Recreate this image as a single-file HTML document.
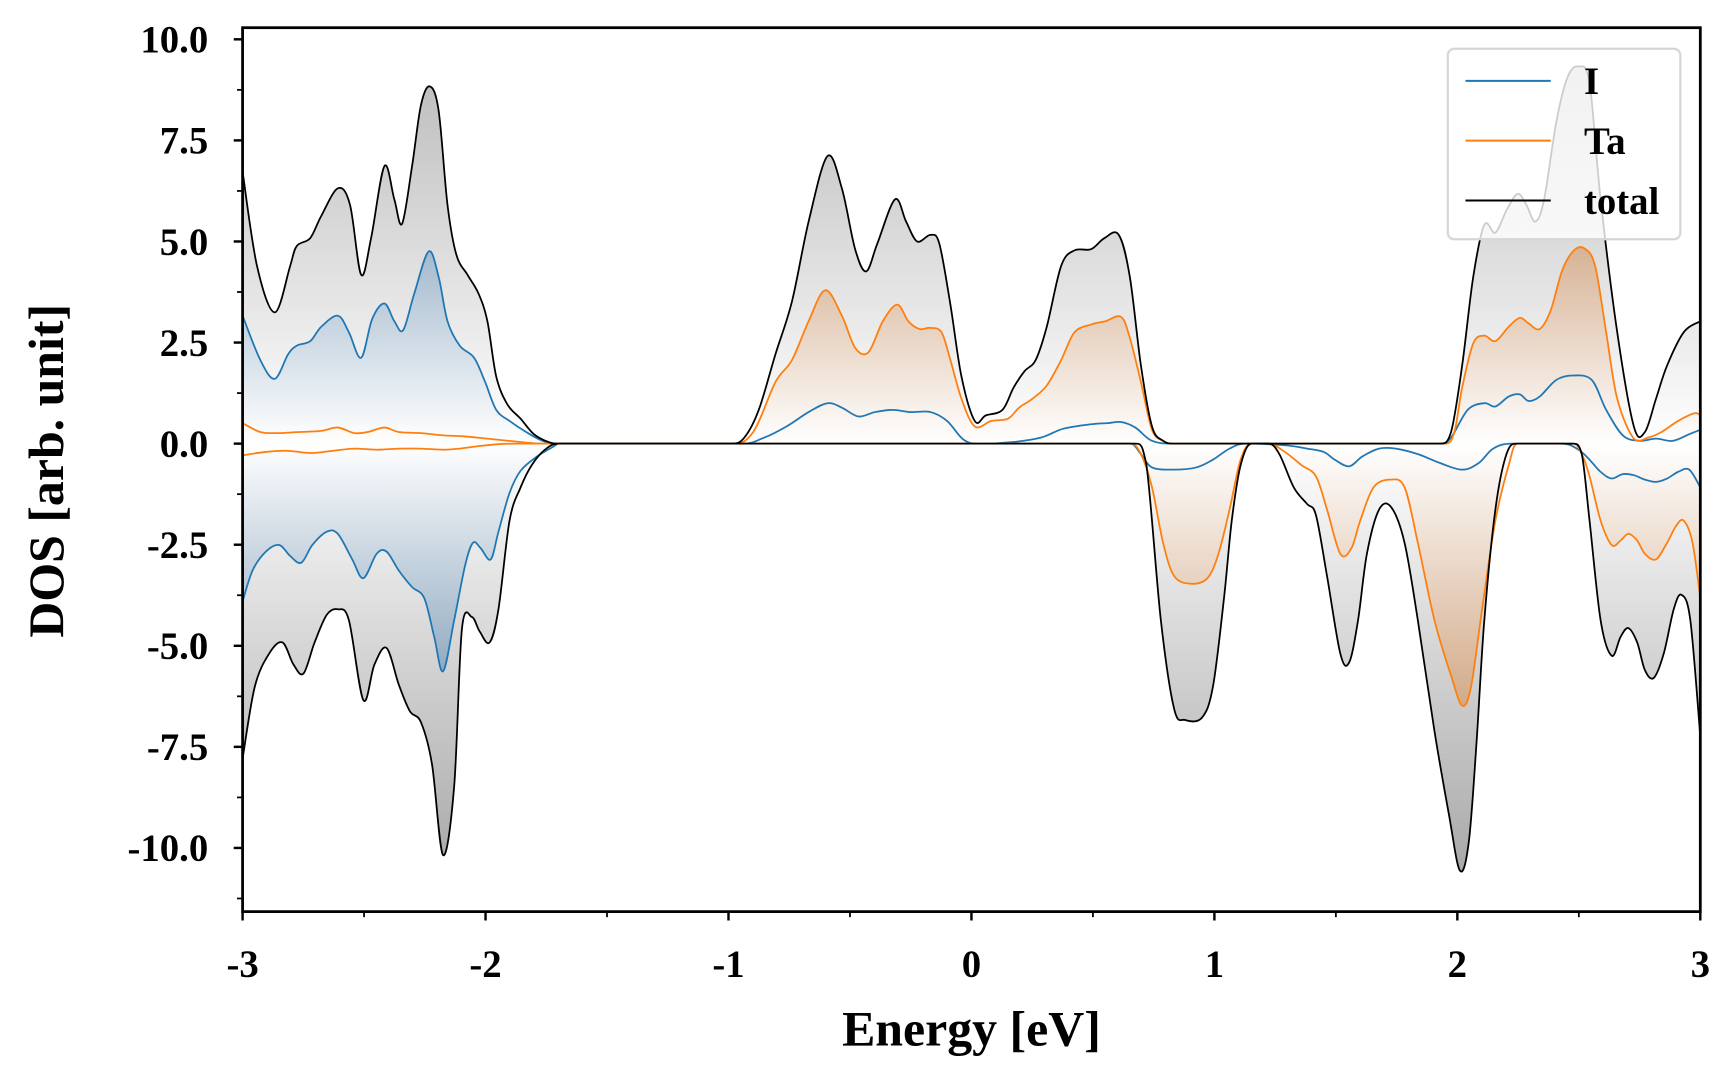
<!DOCTYPE html>
<html><head><meta charset="utf-8"><style>
html,body{margin:0;padding:0;background:#fff;}
svg{display:block;}
text{font-family:"Liberation Serif",serif;font-weight:bold;fill:#000;}
</style></head><body>
<svg id="s" width="1728" height="1080" viewBox="0 0 1560 975" xmlns="http://www.w3.org/2000/svg">
<defs>
<linearGradient id="gk" gradientUnits="userSpaceOnUse" x1="0" y1="40" x2="0" y2="790">
<stop offset="0" stop-color="#b8b8b8"/><stop offset="0.48" stop-color="#ffffff"/><stop offset="1" stop-color="#a8a8a8"/></linearGradient>
<linearGradient id="gb" gradientUnits="userSpaceOnUse" x1="0" y1="220" x2="0" y2="610">
<stop offset="0" stop-color="#9fb7cb"/><stop offset="0.46" stop-color="#ffffff"/><stop offset="1" stop-color="#8fa9c0"/></linearGradient>
<linearGradient id="go" gradientUnits="userSpaceOnUse" x1="0" y1="220" x2="0" y2="640">
<stop offset="0" stop-color="#d6b193"/><stop offset="0.43" stop-color="#ffffff"/><stop offset="1" stop-color="#d2a987"/></linearGradient>
<clipPath id="cp"><rect x="219" y="25" width="1316" height="798"/></clipPath>
</defs>
<g id="plot" clip-path="url(#cp)"></g>
<rect x="219" y="25" width="1316" height="798" fill="none" stroke="#000" stroke-width="2.5"/>
<g id="ticks" stroke="#000"></g>
<g id="labels" font-size="35"></g>
<text x="877" y="944" font-size="45" text-anchor="middle">Energy [eV]</text>
<text transform="translate(57,425) rotate(-90)" font-size="45" text-anchor="middle">DOS [arb. unit]</text>
<g id="legend">
<rect x="1307" y="44" width="210" height="172" rx="6" fill="#fff" fill-opacity="0.8" stroke="#d6d6d6" stroke-width="2"/>
<line x1="1323" y1="73" x2="1400" y2="73" stroke="#1f77b4" stroke-width="1.8"/>
<line x1="1323" y1="127" x2="1400" y2="127" stroke="#ff7f0e" stroke-width="1.8"/>
<line x1="1323" y1="181" x2="1400" y2="181" stroke="#000" stroke-width="1.8"/>
<text x="1430" y="85" font-size="35">I</text>
<text x="1430" y="139" font-size="35">Ta</text>
<text x="1430" y="193" font-size="35">total</text>
</g>
</svg>
<script>
var Z=400.5;
var TU=[[219,155],[232,240],[248,282],[262,240],[268,222],[280,215],[290,195],[305,170],[316,185],[326,248],[335,215],[347,150],[356,180],[363,202],[372,150],[380,95],[388,78],[396,100],[404,185],[412,230],[422,248],[432,265],[440,290],[448,340],[458,365],[470,378],[482,392],[495,399],[505,400.5],[660,400.5],[672,395],[685,370],[700,320],[715,272],[730,200],[747,141],[760,170],[772,225],[782,245],[792,220],[808,180],[818,200],[828,218],[840,212],[848,220],[858,275],[868,340],[880,380],[890,375],[905,370],[915,350],[925,335],[935,325],[945,295],[958,240],[970,226],[985,225],[997,215],[1010,212],[1020,250],[1030,330],[1040,385],[1050,398],[1060,400.5],[1300,400.5],[1310,390],[1320,330],[1330,250],[1340,203],[1350,210],[1360,190],[1370,175],[1378,185],[1386,200],[1394,180],[1405,110],[1415,70],[1425,60],[1435,75],[1445,180],[1460,300],[1475,385],[1485,390],[1495,360],[1505,330],[1520,300],[1535,290]];
var TD=[[219,685],[230,620],[243,590],[255,580],[265,600],[274,608],[284,580],[295,555],[305,550],[315,560],[328,632],[338,600],[349,585],[360,618],[370,642],[380,652],[390,690],[400,772],[410,710],[417,568],[426,557],[433,570],[442,580],[450,550],[460,470],[470,440],[480,420],[492,406],[505,400.5],[1025,400.5],[1035,420],[1048,560],[1060,640],[1070,650],[1085,648],[1095,620],[1105,540],[1112,470],[1120,420],[1130,400.5],[1145,400.5],[1155,410],[1168,440],[1180,455],[1188,465],[1198,520],[1210,590],[1218,598],[1226,560],[1234,500],[1245,460],[1256,458],[1268,490],[1280,560],[1295,660],[1308,735],[1318,786],[1326,760],[1333,670],[1340,560],[1350,460],[1360,410],[1370,400.5],[1420,400.5],[1428,410],[1435,470],[1445,560],[1455,592],[1463,575],[1470,567],[1478,580],[1485,605],[1493,612],[1502,590],[1511,550],[1518,537],[1526,560],[1535,665]];
var IU=[[219,285],[235,325],[248,342],[260,320],[268,312],[280,308],[290,295],[305,285],[315,300],[326,323],[336,288],[347,274],[356,290],[364,298],[374,265],[387,227],[396,250],[404,290],[415,312],[428,323],[438,345],[448,370],[460,380],[475,390],[490,398],[505,400.5],[670,400.5],[690,395],[710,385],[730,372],[747,364],[760,368],[775,376],[790,372],[806,370],[822,372],[840,372],[855,380],[870,397],[885,400.5],[915,399],[940,395],[960,387],[985,383],[1000,382],[1012,381],[1025,386],[1040,398],[1060,400.5],[1300,400.5],[1310,395],[1325,370],[1340,364],[1350,367],[1362,358],[1372,356],[1380,362],[1390,358],[1405,343],[1420,339],[1437,343],[1450,370],[1465,393],[1480,398],[1495,396],[1510,398],[1525,392],[1535,388]];
var ID=[[219,543],[228,515],[240,498],[252,492],[262,502],[272,508],[282,492],[295,480],[305,482],[318,505],[328,522],[340,500],[349,498],[360,515],[372,530],[383,540],[392,575],[400,606],[410,560],[420,510],[427,490],[434,495],[443,505],[450,480],[460,445],[470,425],[485,412],[500,403],[505,400.5],[1020,400.5],[1030,410],[1040,422],[1060,424],[1080,422],[1095,415],[1110,405],[1125,400.5],[1160,402],[1180,405],[1195,408],[1205,415],[1218,421],[1230,412],[1245,405],[1260,405],[1280,410],[1300,418],[1320,424],[1335,418],[1348,405],[1365,400.5],[1410,400.5],[1425,406],[1435,415],[1445,426],[1455,432],[1465,428],[1475,429],[1485,433],[1495,435],[1505,432],[1515,426],[1525,424],[1535,440]];
var OU=[[219,382],[235,390],[250,391],[270,390],[290,389],[305,386],[320,391],[332,390],[347,386],[360,390],[380,391],[400,393],[420,394],[440,396],[470,399],[490,400.5],[660,400.5],[680,390],[700,345],[715,325],[730,290],[745,262],[760,285],[772,314],[784,318],[797,290],[810,275],[820,290],[830,297],[840,296],[850,300],[858,325],[868,360],[880,385],[895,380],[910,378],[920,368],[932,360],[945,348],[958,325],[970,300],[985,293],[998,290],[1012,286],[1020,305],[1030,345],[1040,388],[1050,398],[1060,400.5],[1305,400.5],[1313,390],[1320,350],[1330,310],[1340,303],[1350,308],[1362,295],[1372,287],[1380,292],[1390,297],[1400,280],[1410,245],[1420,227],[1430,224],[1440,240],[1450,300],[1460,360],[1475,396],[1488,395],[1500,390],[1515,380],[1530,373],[1535,375]];
var OD=[[219,411],[240,408],[260,407],[280,409],[300,407],[320,405],[340,406],[360,405],[380,405],[400,406],[415,405],[430,403],[450,401],[470,400.5],[1020,400.5],[1030,410],[1040,440],[1050,490],[1060,520],[1075,527],[1090,522],[1100,500],[1110,460],[1120,415],[1130,400.5],[1145,400.5],[1160,408],[1175,420],[1188,430],[1198,460],[1210,500],[1220,495],[1228,470],[1240,440],[1255,433],[1268,440],[1280,490],[1295,560],[1310,610],[1320,637],[1328,620],[1338,550],[1350,470],[1362,420],[1370,400.5],[1420,400.5],[1428,410],[1435,430],[1445,470],[1455,492],[1463,488],[1470,482],[1478,488],[1485,500],[1495,505],[1505,490],[1513,475],[1520,470],[1528,490],[1535,540]];
function cr(p,up){function c(y){return up?Math.min(y,Z):Math.max(y,Z);}
var d="M"+p[0][0]+","+p[0][1];for(var i=0;i<p.length-1;i++){var p0=p[i-1]||p[i],p1=p[i],p2=p[i+1],p3=p[i+2]||p2;
if(p1[1]==Z&&p2[1]==Z){d+=" L"+p2[0]+","+p2[1];continue;}
var dx=p2[0]-p1[0];
var ax=p1[0]+Math.min((p2[0]-p0[0])/6,dx/2), bx=p2[0]-Math.min((p3[0]-p1[0])/6,dx/2);
var a=p1[1]==Z?Z:c(p1[1]+(p2[1]-p0[1])/6),b=p2[1]==Z?Z:c(p2[1]-(p3[1]-p1[1])/6);
d+=" C"+ax.toFixed(2)+","+a.toFixed(2)+" "+bx.toFixed(2)+","+b.toFixed(2)+" "+p2[0]+","+p2[1];}return d;}
var NS="http://www.w3.org/2000/svg",g=document.getElementById("plot");
function el(t,a,par){var e=document.createElementNS(NS,t);for(var k in a)e.setAttribute(k,a[k]);(par||g).appendChild(e);return e;}
function fill(p,up,f){var d=cr(p,up)+" L"+p[p.length-1][0]+","+Z+" L"+p[0][0]+","+Z+" Z";el("path",{d:d,fill:f,stroke:"none"});}
fill(TU,1,"url(#gk)");fill(TD,0,"url(#gk)");
fill(IU,1,"url(#gb)");fill(ID,0,"url(#gb)");
fill(OU,1,"url(#go)");fill(OD,0,"url(#go)");
function line(p,up,c){el("path",{d:cr(p,up),fill:"none",stroke:c,"stroke-width":1.6,"stroke-linejoin":"round"});}
line(IU,1,"#1f77b4");line(ID,0,"#1f77b4");line(OU,1,"#ff7f0e");line(OD,0,"#ff7f0e");line(TU,1,"#000");line(TD,0,"#000");
var tk=document.getElementById("ticks"),lb=document.getElementById("labels");
var xl=["-3","-2","-1","0","1","2","3"];
for(var i=0;i<=12;i++){var x=219+i*1316/12;var maj=i%2==0;el("line",{x1:x,y1:823,x2:x,y2:823+(maj?8:5),"stroke-width":maj?2.2:1.6},tk);
if(maj){var t=el("text",{x:x,y:882,"text-anchor":"middle"},lb);t.textContent=xl[i/2];}}
for(var j=-9;j<=8;j++){var v=j*1.25;var y=Z-v*36.5;if(y<25||y>823)continue;var maj=(j%2==0);
el("line",{x1:219,y1:y,x2:219-(maj?8:5),y2:y,"stroke-width":maj?2.2:1.6},tk);
if(maj){var t=el("text",{x:188,y:y+12,"text-anchor":"end"},lb);t.textContent=(v===0?"0.0":v.toFixed(1));}}
</script>
</body></html>
